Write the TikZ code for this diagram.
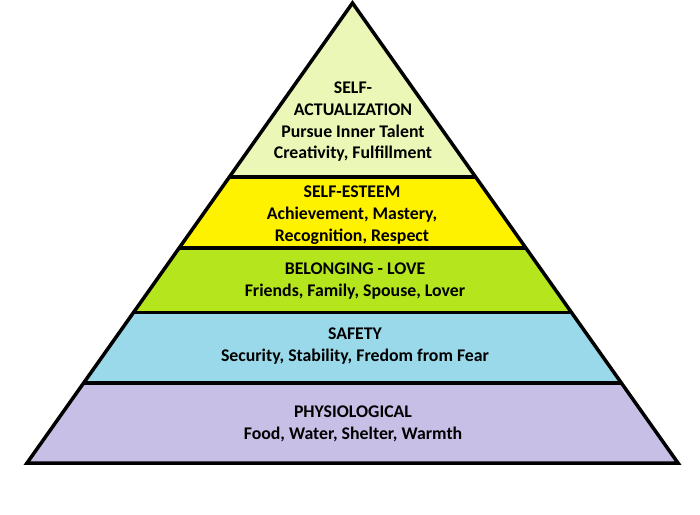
\documentclass[tikz,border=0pt]{standalone}
\usepackage{fontspec}
\setmainfont{Carlito}
\definecolor{cSA}{HTML}{EBF7B6}
\definecolor{cSE}{HTML}{FFF200}
\definecolor{cBL}{HTML}{B5E61D}
\definecolor{cSF}{HTML}{99D9EA}
\definecolor{cPH}{HTML}{C8BFE7}
\tikzset{
  edge/.style={line width=3.5pt, draw=black},
  lbl/.style={align=center, inner sep=0pt, font=\bfseries\fontsize{17.8}{21.7}\selectfont, text=black}
}
\begin{document}
\begin{tikzpicture}[x=1pt,y=-1pt]
\useasboundingbox (0,0) rectangle (700,514);
\coordinate (A) at (352.5,3);
\coordinate (L) at (27,463);
\coordinate (R) at (678,463);
\begin{scope}
  \clip (A) -- (L) -- (R) -- cycle;
  \fill[cSA] (0,0) rectangle (700,177);
  \fill[cSE] (0,177) rectangle (700,248);
  \fill[cBL] (0,248) rectangle (700,312.5);
  \fill[cSF] (0,312.5) rectangle (700,383);
  \fill[cPH] (0,383) rectangle (700,470);
  \coordinate (d1l) at (0,177);   \coordinate (d1r) at (700,177);
  \coordinate (d2l) at (0,248);   \coordinate (d2r) at (700,248);
  \coordinate (d3l) at (0,312.5); \coordinate (d3r) at (700,312.5);
  \coordinate (d4l) at (0,383);   \coordinate (d4r) at (700,383);
  \draw[edge] (d1l) -- (d1r);
  \draw[edge] (d2l) -- (d2r);
  \draw[edge] (d3l) -- (d3r);
  \draw[edge] (d4l) -- (d4r);
\end{scope}
\draw[edge, line join=miter] (A) -- (L) -- (R) -- cycle;
\node[lbl] (sa) at (353,122) {SELF-\\ACTUALIZATION\\Pursue Inner Talent\\Creativity, Fulfillment};
\node[lbl] (se) at (352,215) {SELF-ESTEEM\\Achievement, Mastery,\\Recognition, Respect};
\node[lbl] (bl) at (355,281) {BELONGING - LOVE\\Friends, Family, Spouse, Lover};
\node[lbl] (sf) at (355,346) {SAFETY\\Security, Stability, Fredom from Fear};
\node[lbl] (ph) at (353,424) {PHYSIOLOGICAL\\Food, Water, Shelter, Warmth};
\end{tikzpicture}
\end{document}
